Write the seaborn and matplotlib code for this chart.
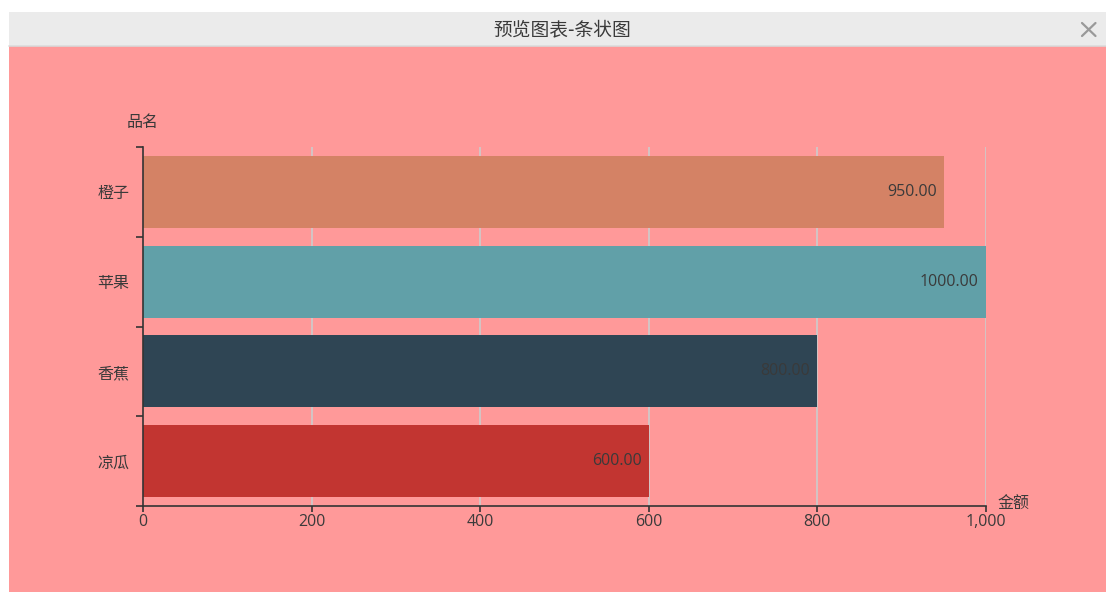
import matplotlib
matplotlib.use("Agg")
import matplotlib.pyplot as plt
import seaborn as sns
import pandas as pd
from matplotlib.patches import Rectangle
from matplotlib.lines import Line2D
from matplotlib.ticker import FuncFormatter, FixedLocator
import matplotlib.transforms as mtransforms

# ---- data ----
categories = ["橙子", "苹果", "香蕉", "凉瓜"]
values = [950, 1000, 800, 600]
bar_colors = ["#d48265", "#61a0a8", "#2f4554", "#c23531"]
x_ticks = [0, 200, 400, 600, 800, 1000]
title = "预览图表-条状图"
y_name = "品名"
x_name = "金额"

sns.set_theme(style="white")
plt.rcParams["font.family"] = ["Noto Sans CJK SC", "DejaVu Sans"]
NUM_FONT = ["Open Sans", "DejaVu Sans"]
TXT = "#3a3a3a"

W, H = 1106, 592
fig = plt.figure(figsize=(W / 100, H / 100), dpi=100, facecolor="white")

def fx(px):
    return px / W

def fy(py):
    return 1 - py / H

# pink panel and title bar
fig.add_artist(Rectangle((fx(9), 0), fx(W - 9), fy(46), transform=fig.transFigure,
                         facecolor="#ff9999", edgecolor="none", zorder=-10))
fig.add_artist(Rectangle((fx(9), fy(45)), fx(W - 9), 33 / H, transform=fig.transFigure,
                         facecolor="#ebebeb", edgecolor="none", zorder=-10))
fig.add_artist(Line2D([fx(9), 1], [fy(45.5), fy(45.5)], transform=fig.transFigure,
                      color="#d8d8d8", lw=1.2, zorder=-9))
fig.text(fx(562), fy(30), title, ha="center", va="center", fontsize=13.5, color=TXT)
# close cross
fig.add_artist(Line2D([fx(1082), fx(1095.5)], [fy(23), fy(36)], transform=fig.transFigure,
                      color="#999999", lw=1.6))
fig.add_artist(Line2D([fx(1082), fx(1095.5)], [fy(36), fy(23)], transform=fig.transFigure,
                      color="#999999", lw=1.6))

# axes
left, right, top, bottom = 143, 985.7, 147, 506
ax = fig.add_axes([fx(left), fy(bottom), fx(right - left), (bottom - top) / H])
ax.set_facecolor("none")

df = pd.DataFrame({y_name: categories, x_name: values})
sns.barplot(data=df, x=x_name, y=y_name, hue=y_name, palette=bar_colors,
            order=categories, hue_order=categories, orient="h", width=0.8,
            saturation=1, legend=False, ax=ax, edgecolor="none", zorder=3)

ax.set_xlim(0, 1000)
ax.set_ylim(len(categories) - 0.5, -0.5)

# grid
ax.xaxis.set_major_locator(FixedLocator(x_ticks))
ax.xaxis.set_major_formatter(FuncFormatter(lambda v, p: f"{v:,.0f}"))
for t in x_ticks[1:]:
    ax.axvline(t, color="#cccccc", lw=1.2, zorder=1)

# spines
for s in ["top", "right"]:
    ax.spines[s].set_visible(False)
for s in ["left", "bottom"]:
    ax.spines[s].set_color("#333333")
    ax.spines[s].set_linewidth(1.2)
    ax.spines[s].set_zorder(5)

ax.tick_params(axis="x", which="major", direction="out", length=4, width=1.2,
               color="#333333", labelsize=11.5, labelcolor=TXT, pad=2, bottom=True)
for lbl in ax.get_xticklabels():
    lbl.set_family(NUM_FONT)

# y ticks at boundaries, labels at centres
n = len(categories)
ax.yaxis.set_major_locator(FixedLocator([i - 0.5 for i in range(n + 1)]))
ax.yaxis.set_major_formatter(FuncFormatter(lambda v, p: ""))
ax.yaxis.set_minor_locator(FixedLocator(list(range(n))))
ax.set_yticks(list(range(n)), categories, minor=True)
ax.tick_params(axis="y", which="major", direction="out", length=5, width=1.2,
               color="#333333", left=True)
ax.tick_params(axis="y", which="minor", length=0, labelsize=11.5, labelcolor=TXT, pad=10)

ax.set_xlabel("")
ax.set_ylabel("")

# axis names
ax.text(0, 1.0, y_name, transform=ax.transAxes + mtransforms.ScaledTranslation(0, 24 / 100, fig.dpi_scale_trans),
        ha="center", va="center", fontsize=11.5, color=TXT)
ax.text(1.0, 0.0, x_name, transform=ax.transAxes + mtransforms.ScaledTranslation(12 / 100, 2 / 100, fig.dpi_scale_trans),
        ha="left", va="center", fontsize=11.5, color=TXT)

# value labels inside bar ends
off = mtransforms.ScaledTranslation(-7 / 100, 0, fig.dpi_scale_trans)
for cont in ax.containers:
    for p in cont.patches:
        w = p.get_width()
        yc = p.get_y() + p.get_height() / 2
        ax.text(w, yc, f"{w:.2f}", transform=ax.transData + off, ha="right", va="center",
                fontsize=11.5, color=TXT, family=NUM_FONT, zorder=6)

fig.savefig("out.png", dpi=100, facecolor="white")
